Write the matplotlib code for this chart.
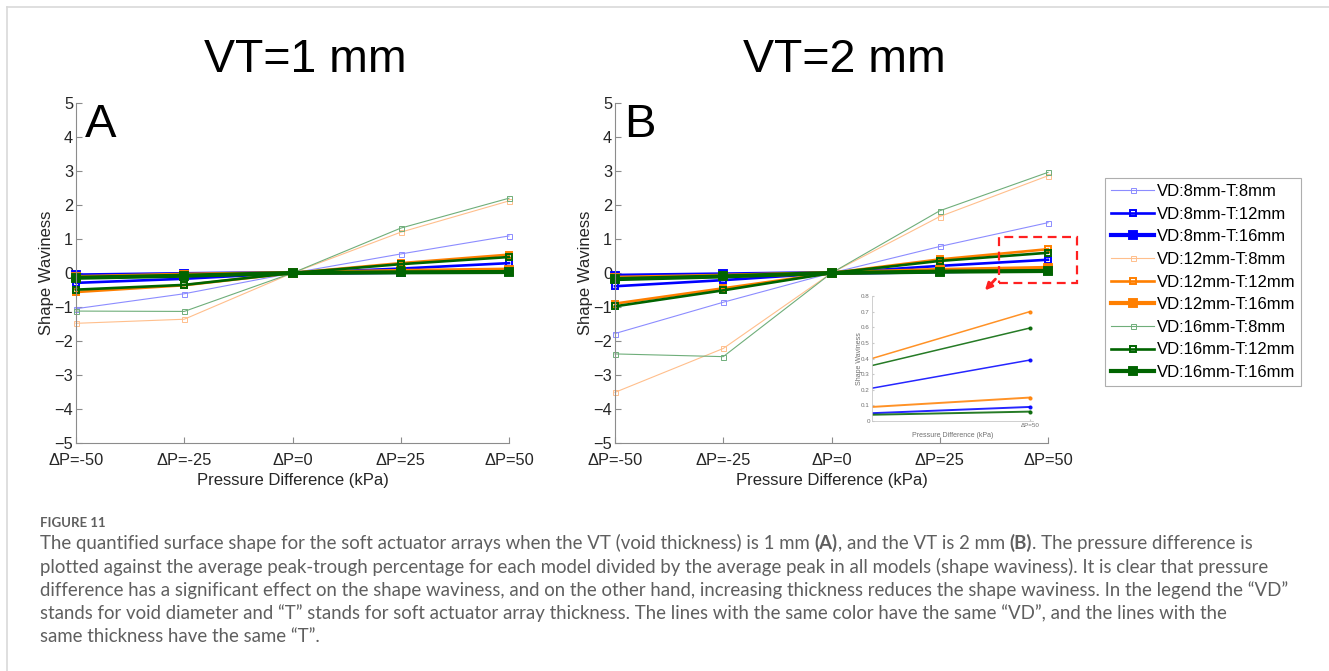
import numpy as np
import matplotlib
matplotlib.use("Agg")
from matplotlib import pyplot as plt
from matplotlib.patches import Rectangle

plt.rcParams['font.family'] = ['Liberation Sans', 'DejaVu Sans']

pressure = [-50, -25, 0, 25, 50]
pressure_labels = ['\u0394P=-50', '\u0394P=-25', '\u0394P=0', '\u0394P=25', '\u0394P=50']
series_names = ['VD:8mm-T:8mm', 'VD:8mm-T:12mm', 'VD:8mm-T:16mm',
                'VD:12mm-T:8mm', 'VD:12mm-T:12mm', 'VD:12mm-T:16mm',
                'VD:16mm-T:8mm', 'VD:16mm-T:12mm', 'VD:16mm-T:16mm']

# VT = 1 mm
vt1_vd8_t8 = [-1.05, -0.61, 0, 0.56, 1.09]
vt1_vd8_t12 = [-0.29, -0.17, 0, 0.13, 0.29]
vt1_vd8_t16 = [-0.07, -0.03, 0, 0.03, 0.05]
vt1_vd12_t8 = [-1.48, -1.36, 0, 1.20, 2.12]
vt1_vd12_t12 = [-0.56, -0.36, 0, 0.29, 0.54]
vt1_vd12_t16 = [-0.12, -0.05, 0, 0.06, 0.10]
vt1_vd16_t8 = [-1.12, -1.13, 0, 1.32, 2.20]
vt1_vd16_t12 = [-0.49, -0.35, 0, 0.26, 0.47]
vt1_vd16_t16 = [-0.14, -0.08, 0, 0.02, 0.03]

# VT = 2 mm
vt2_vd8_t8 = [-1.78, -0.86, 0, 0.78, 1.48]
vt2_vd8_t12 = [-0.39, -0.21, 0, 0.21, 0.39]
vt2_vd8_t16 = [-0.08, -0.04, 0, 0.05, 0.09]
vt2_vd12_t8 = [-3.51, -2.22, 0, 1.66, 2.86]
vt2_vd12_t12 = [-0.90, -0.45, 0, 0.40, 0.70]
vt2_vd12_t16 = [-0.14, -0.08, 0, 0.09, 0.15]
vt2_vd16_t8 = [-2.38, -2.46, 0, 1.83, 2.96]
vt2_vd16_t12 = [-0.98, -0.51, 0, 0.355, 0.595]
vt2_vd16_t16 = [-0.18, -0.10, 0, 0.04, 0.06]

vt1 = [vt1_vd8_t8, vt1_vd8_t12, vt1_vd8_t16, vt1_vd12_t8, vt1_vd12_t12,
       vt1_vd12_t16, vt1_vd16_t8, vt1_vd16_t12, vt1_vd16_t16]
vt2 = [vt2_vd8_t8, vt2_vd8_t12, vt2_vd8_t16, vt2_vd12_t8, vt2_vd12_t12,
       vt2_vd12_t16, vt2_vd16_t8, vt2_vd16_t12, vt2_vd16_t16]

vd_colors = {'8': '#0000ff', '12': '#ff7f00', '16': '#006400'}
light_colors = {'8': '#8c8cff', '12': '#ffbf8c', '16': '#6fae7a'}
# per-thickness style: line width, marker size, marker edge width
t_style = {'8': (0.8, 3.6, 0.7), '12': (1.9, 4.2, 1.4), '16': (3.0, 4.6, 2.8)}


def style_for(name):
    vd = name.split('-')[0].split(':')[1].replace('mm', '')
    t = name.split('-')[1].split(':')[1].replace('mm', '')
    lw, ms, mew = t_style[t]
    col = light_colors[vd] if t == '8' else vd_colors[vd]
    return col, lw, ms, mew


W, H = 1329, 671
fig = plt.figure(figsize=(W / 100, H / 100), dpi=100)


def px_rect(x0, y0, x1, y1):
    return [x0 / W, 1 - y1 / H, (x1 - x0) / W, (y1 - y0) / H]


def draw_panel(ax, data, letter, title):
    for name, vals in zip(series_names, data):
        col, lw, ms, mew = style_for(name)
        ax.plot(pressure, vals, color=col, lw=lw, marker='s', ms=ms,
                mfc='none', mec=col, mew=mew, label=name, clip_on=False)
    ax.set_xlim(-50, 50)
    ax.set_ylim(-5, 5)
    ax.set_xticks(pressure)
    ax.set_xticklabels(pressure_labels)
    ax.set_yticks(range(-5, 6))
    for s in ['top', 'right']:
        ax.spines[s].set_visible(False)
    for s in ['left', 'bottom']:
        ax.spines[s].set_color('#8c8c8c')
        ax.spines[s].set_linewidth(0.8)
    ax.tick_params(direction='in', length=4, color='#8c8c8c', labelsize=11.8,
                   labelcolor='#262626', pad=2)
    ax.tick_params(axis='x', pad=7)
    ax.set_xlabel('Pressure Difference (kPa)', fontsize=12, color='#262626', labelpad=4)
    ax.set_ylabel('Shape Waviness', fontsize=12, color='#262626', labelpad=0)
    ax.text(0.02, 0.9, letter, transform=ax.transAxes, fontsize=34,
            ha='left', va='baseline')
    ax.text(0.53, 1.09, title, transform=ax.transAxes, fontsize=33.5,
            ha='center', va='baseline')


axA = fig.add_axes(px_rect(76, 103, 509, 443))
axB = fig.add_axes(px_rect(615, 103, 1048, 443))
draw_panel(axA, vt1, 'A', 'VT=1 mm')
draw_panel(axB, vt2, 'B', 'VT=2 mm')

# zoom box and arrow on panel B
axB.add_patch(Rectangle((38.7, -0.29), 18.0, 1.35, fill=False, ec='#ff2020',
                        lw=1.6, ls=(0, (4, 2.5)), clip_on=False, zorder=5))
axB.annotate('', xy=(35, -0.57), xytext=(38.3, -0.12),
             arrowprops=dict(arrowstyle='-|>', color='#ff2020', lw=2,
                             mutation_scale=10), zorder=5)

# inset with the T12/T16 lines between 25 and 50 kPa
axI = fig.add_axes(px_rect(872, 296, 1033, 421))
for name, vals in zip(series_names, vt2):
    if name.endswith('T:8mm'):
        continue
    col, lw, ms, mew = style_for(name)
    axI.plot(pressure[3:], vals[3:], color=col, lw=1.1 if lw < 3 else 1.4,
             marker='o', ms=2, markevery=[1], alpha=0.85)
axI.set_xlim(25, 50.5)
axI.set_ylim(0, 0.8)
axI.set_yticks(np.arange(0, 0.81, 0.1))
axI.set_yticklabels(['0', '0.1', '0.2', '0.3', '0.4', '0.5', '0.6', '0.7', '0.8'])
axI.set_xticks([50])
axI.set_xticklabels([pressure_labels[-1]])
for s in ['top', 'right']:
    axI.spines[s].set_visible(False)
for s in ['left', 'bottom']:
    axI.spines[s].set_color('#c8c8c8')
    axI.spines[s].set_linewidth(0.6)
axI.tick_params(direction='in', length=1.5, color='#c8c8c8', labelsize=4.5,
                labelcolor='#707070', pad=1.5)
axI.set_xlabel('Pressure Difference (kPa)', fontsize=5, color='#707070', labelpad=3)
axI.set_ylabel('Shape Waviness', fontsize=5, color='#707070', labelpad=-1)
axI.patch.set_alpha(0)

# legend
handles, labels = axA.get_legend_handles_labels()
leg = fig.legend(handles, labels, loc='upper left',
                 bbox_to_anchor=(1105 / W, 1 - 178 / H), fontsize=12,
                 frameon=True, fancybox=False, edgecolor='#9a9a9a',
                 handlelength=2.6, handletextpad=0.15, labelspacing=0.46,
                 borderpad=0.35, borderaxespad=0)
leg.get_frame().set_linewidth(0.8)

# page borders
fig.add_artist(plt.Line2D([7 / W, 1], [1 - 7 / H, 1 - 7 / H], color='#d9d9d9', lw=1.2))
fig.add_artist(plt.Line2D([7 / W, 7 / W], [0, 1 - 7 / H], color='#d9d9d9', lw=1.2))

# caption
cap_col = '#5f5f5f'
cap_font = ['Lato', 'DejaVu Sans']
fig.text(40 / W, 1 - 523 / H, 'FIGURE 11', fontsize=9.5, color=cap_col,
         family=cap_font, weight='bold', va='center')

caption_lines = [
    [('The quantified surface shape for the soft actuator arrays when the VT (void thickness) is 1 mm ', 'normal'),
     ('(A)', 'bold'), (', and the VT is 2 mm ', 'normal'), ('(B)', 'bold'),
     ('. The pressure difference is', 'normal')],
    [('plotted against the average peak-trough percentage for each model divided by the average peak in all models (shape waviness). It is clear that pressure', 'normal')],
    [('difference has a significant effect on the shape waviness, and on the other hand, increasing thickness reduces the shape waviness. In the legend the \u201cVD\u201d', 'normal')],
    [('stands for void diameter and \u201cT\u201d stands for soft actuator array thickness. The lines with the same color have the same \u201cVD\u201d, and the lines with the', 'normal')],
    [('same thickness have the same \u201cT\u201d.', 'normal')],
]
line_y = [543, 566.5, 590, 613.5, 637]
cap_size = 12.2 * 1216 / 1107
renderer = fig.canvas.get_renderer()
for segs, yy in zip(caption_lines, line_y):
    x = 40
    for txt, wt in segs:
        t = fig.text(x / W, 1 - yy / H, txt, fontsize=cap_size, color=cap_col,
                     family=cap_font, weight=wt, va='center')
        x += t.get_window_extent(renderer).width

fig.savefig('out.png', dpi=100)
